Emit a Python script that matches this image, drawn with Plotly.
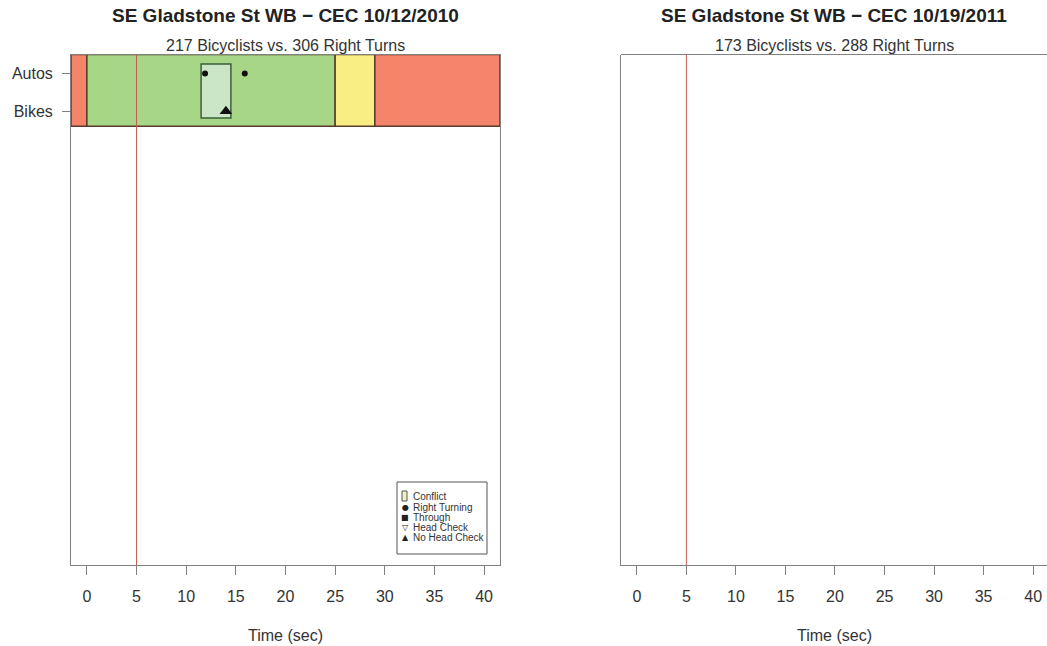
import plotly.graph_objects as go

# ---- data ----
titles = ["SE Gladstone St WB \u2212 CEC 10/12/2010", "SE Gladstone St WB \u2212 CEC 10/19/2011"]
subtitles = ["217 Bicyclists vs. 306 Right Turns", "173 Bicyclists vs. 288 Right Turns"]

# signal phases for the 2010 session (seconds)
phase_start = [-1.6, 0, 25, 29]
phase_end = [0, 25, 29, 41.6]
phase_color = ["#f4846a", "#a6d686", "#f8ee84", "#f4846a"]

lanes = ["Autos", "Bikes"]
lane_pos = [1, 2]

# conflict window (seconds)
conflict_start = [11.5]
conflict_end = [14.5]

# events
right_turn_t = [11.9, 15.9]
right_turn_lane = ["Autos", "Autos"]
no_head_check_t = [14.0]
no_head_check_lane = ["Bikes"]

ref_time = 5          # red reference line
x_ticks = list(range(0, 45, 5))

legend_items = ["Conflict", "Right Turning", "Through", "Head Check", "No Head Check"]
legend_symbols = ["", "\u25cf", "\u25a0", "\u25bd", "\u25b2"]

# ---- figure ----
W, H = 1047, 646
AX = "#808080"
TXT = "#333333"
FONT = "Liberation Sans, Arial, sans-serif"

lane_y = dict(zip(lanes, lane_pos))

fig = go.Figure()

# event markers (left panel)
fig.add_trace(go.Scatter(
    x=right_turn_t, y=[lane_y[l] for l in right_turn_lane], mode="markers",
    marker=dict(symbol="circle", size=6, color="#111111"),
    xaxis="x", yaxis="y", showlegend=False, hoverinfo="skip"))
fig.add_trace(go.Scatter(
    x=no_head_check_t, y=[lane_y[l] for l in no_head_check_lane], mode="markers",
    marker=dict(symbol="triangle-up", size=11, color="#111111"),
    xaxis="x", yaxis="y", showlegend=False, hoverinfo="skip"))
# invisible trace to instantiate the right panel
fig.add_trace(go.Scatter(x=[ref_time], y=[5], mode="markers", marker=dict(opacity=0),
                         xaxis="x2", yaxis="y2", showlegend=False, hoverinfo="skip"))

shapes = []
bar_top, bar_bot = 0.5, 2.4
for s, e, c in zip(phase_start, phase_end, phase_color):
    shapes.append(dict(type="rect", xref="x", yref="y", x0=s, x1=e, y0=bar_top, y1=bar_bot,
                       fillcolor=c, line=dict(color="#5a3b2e", width=1.5), layer="below"))
for s, e in zip(conflict_start, conflict_end):
    shapes.append(dict(type="rect", xref="x", yref="y", x0=s, x1=e, y0=0.75, y1=2.18,
                       fillcolor="#cbe6c6", line=dict(color="#3d5f3a", width=1.5), layer="below"))
for xr, yr in (("x", "y"), ("x2", "y2")):
    shapes.append(dict(type="line", xref=xr, yref=f"{yr} domain", x0=ref_time, x1=ref_time,
                       y0=0, y1=1, line=dict(color="#c65a50", width=1)))

# legend box
def px_x(p):
    return p / W

def px_y(p):
    return 1 - p / H

shapes.append(dict(type="rect", xref="paper", yref="paper", x0=px_x(397), x1=px_x(487),
                   y0=px_y(554), y1=px_y(482), line=dict(color="#555555", width=1),
                   fillcolor="white"))
shapes.append(dict(type="rect", xref="paper", yref="paper", x0=px_x(402), x1=px_x(407),
                   y0=px_y(501), y1=px_y(491), line=dict(color="#555555", width=1),
                   fillcolor="#eef2c0"))

annotations = []
row_y = [496, 507, 517, 527, 537]
for name, sym, ry in zip(legend_items, legend_symbols, row_y):
    if sym:
        annotations.append(dict(text=sym, x=px_x(405), y=px_y(ry), xref="paper", yref="paper",
                                showarrow=False, xanchor="center", yanchor="middle",
                                font=dict(size=8, color="#222222", family="DejaVu Sans")))
    annotations.append(dict(text=name, x=px_x(411), y=px_y(ry), xref="paper", yref="paper",
                            showarrow=False, xanchor="left", yanchor="middle",
                            font=dict(size=10, color="#333333", family=FONT)))

centers = [285.5, 834]
for i in range(2):
    annotations.append(dict(text=f"<b>{titles[i]}</b>", x=px_x(centers[i]), y=px_y(15),
                            xref="paper", yref="paper", showarrow=False,
                            xanchor="center", yanchor="middle",
                            font=dict(size=19, color="#222222", family=FONT)))
    annotations.append(dict(text=subtitles[i], x=px_x(centers[i]), y=px_y(45),
                            xref="paper", yref="paper", showarrow=False,
                            xanchor="center", yanchor="middle",
                            font=dict(size=16, color=TXT, family=FONT)))
    annotations.append(dict(text="Time (sec)", x=px_x(centers[i]), y=px_y(635),
                            xref="paper", yref="paper", showarrow=False,
                            xanchor="center", yanchor="middle",
                            font=dict(size=16, color=TXT, family=FONT)))

y_dom = [px_y(565), px_y(54.5)]
xaxis_common = dict(tickvals=x_ticks, ticks="outside", ticklen=9, tickcolor=AX,
                    showline=True, linecolor=AX, linewidth=1, mirror=True,
                    showgrid=False, zeroline=False, ticklabelstandoff=8,
                    tickfont=dict(size=16, color=TXT, family=FONT))

fig.update_layout(
    width=W, height=H, margin=dict(l=0, r=0, t=0, b=0),
    paper_bgcolor="white", plot_bgcolor="white", showlegend=False,
    xaxis=dict(domain=[px_x(71), px_x(500)], range=[-1.6, 41.6], anchor="y", **xaxis_common),
    yaxis=dict(domain=y_dom, range=[14, 0.5], tickvals=lane_pos, ticktext=lanes,
               ticks="outside", ticklen=8, tickcolor=AX, showline=True, linecolor=AX,
               linewidth=1, mirror=True, showgrid=False, zeroline=False, ticklabelstandoff=6,
               tickfont=dict(size=16, color=TXT, family=FONT), anchor="x"),
    xaxis2=dict(domain=[px_x(621), 1.0], range=[-1.6, 41.4], anchor="y2",
                **{**xaxis_common, "mirror": False}),
    yaxis2=dict(domain=y_dom, range=[14, 0.5], showticklabels=False, ticks="",
                showline=True, linecolor=AX, linewidth=1, mirror=False,
                showgrid=False, zeroline=False, anchor="x2"),
    shapes=shapes, annotations=annotations,
)
# top border of the right panel
fig.add_shape(type="line", xref="x2 domain", yref="y2 domain", x0=0, x1=1, y0=1, y1=1,
              line=dict(color=AX, width=1))

fig.write_html("out.html")
